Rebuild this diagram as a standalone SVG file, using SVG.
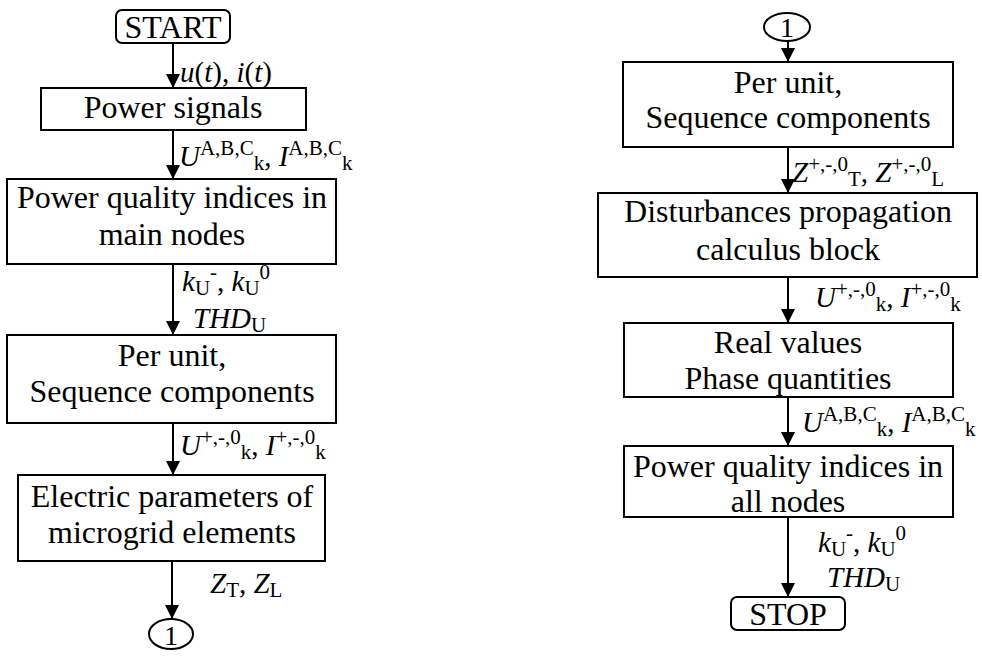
<svg xmlns="http://www.w3.org/2000/svg" width="982" height="658" viewBox="0 0 982 658">
<style>
.box{fill:#fff;stroke:#000;stroke-width:2}
.t{font-family:'Liberation Serif','DejaVu Serif',serif;font-size:32px;fill:#000;text-anchor:middle}
.l{font-family:'Liberation Serif','DejaVu Serif',serif;font-size:29px;fill:#000}
.i{font-style:italic}
.s{font-size:21px}
.c{stroke:#000;stroke-width:2;fill:none}
</style>
<defs>
<marker id="ah" markerUnits="userSpaceOnUse" markerWidth="16" markerHeight="20" refX="14" refY="7" orient="auto" viewBox="0 0 16 14">
<path d="M0,0 L14,7 L0,14 Z" fill="#000"/>
</marker>
</defs>
<rect width="982" height="658" fill="#fff"/>
<g id="connectors">
<line class="c" x1="173" y1="43" x2="173" y2="88" marker-end="url(#ah)"/>
<line class="c" x1="173" y1="130" x2="173" y2="179" marker-end="url(#ah)"/>
<line class="c" x1="173" y1="264" x2="173" y2="335" marker-end="url(#ah)"/>
<line class="c" x1="173" y1="423" x2="173" y2="475" marker-end="url(#ah)"/>
<line class="c" x1="172" y1="561" x2="172" y2="619" marker-end="url(#ah)"/>
<line class="c" x1="788" y1="41" x2="788" y2="62" marker-end="url(#ah)"/>
<line class="c" x1="788" y1="147" x2="788" y2="193" marker-end="url(#ah)"/>
<line class="c" x1="788" y1="277" x2="788" y2="323" marker-end="url(#ah)"/>
<line class="c" x1="788" y1="397" x2="788" y2="446" marker-end="url(#ah)"/>
<line class="c" x1="788" y1="517" x2="788" y2="597" marker-end="url(#ah)"/>
</g>
<g id="labels">
<text class="l" x="180" y="82"><tspan class="i">u</tspan>(<tspan class="i">t</tspan>), <tspan class="i">i</tspan>(<tspan class="i">t</tspan>)</text>
<text class="l" x="179" y="166"><tspan class="i">U</tspan><tspan class="s" dy="-11">A,B,C</tspan><tspan class="s" dy="15">k</tspan><tspan dy="-4">, </tspan><tspan class="i">I</tspan><tspan class="s" dy="-11">A,B,C</tspan><tspan class="s" dy="15">k</tspan></text>
<text class="l" x="182" y="291"><tspan class="i">k</tspan><tspan class="s" dy="4">U</tspan><tspan class="s" dy="-16">-</tspan><tspan dy="12">, </tspan><tspan class="i">k</tspan><tspan class="s" dy="4">U</tspan><tspan class="s" dy="-16">0</tspan></text>
<text class="l" x="193" y="328"><tspan class="i">THD</tspan><tspan class="s" dy="4">U</tspan></text>
<text class="l" x="180" y="455"><tspan class="i">U</tspan><tspan class="s" dy="-11">+,-,0</tspan><tspan class="s" dy="15">k</tspan><tspan dy="-4">, </tspan><tspan class="i">I</tspan><tspan class="s" dy="-11">+,-,0</tspan><tspan class="s" dy="15">k</tspan></text>
<text class="l" x="210" y="593"><tspan class="i">Z</tspan><tspan class="s" dy="4">T</tspan><tspan dy="-4">, </tspan><tspan class="i">Z</tspan><tspan class="s" dy="4">L</tspan></text>
<text class="l" x="792" y="182"><tspan class="i">Z</tspan><tspan class="s" dy="-11">+,-,0</tspan><tspan class="s" dy="15">T</tspan><tspan dy="-4">, </tspan><tspan class="i">Z</tspan><tspan class="s" dy="-11">+,-,0</tspan><tspan class="s" dy="15">L</tspan></text>
<text class="l" x="815" y="307"><tspan class="i">U</tspan><tspan class="s" dy="-11">+,-,0</tspan><tspan class="s" dy="15">k</tspan><tspan dy="-4">, </tspan><tspan class="i">I</tspan><tspan class="s" dy="-11">+,-,0</tspan><tspan class="s" dy="15">k</tspan></text>
<text class="l" x="802" y="432"><tspan class="i">U</tspan><tspan class="s" dy="-11">A,B,C</tspan><tspan class="s" dy="15">k</tspan><tspan dy="-4">, </tspan><tspan class="i">I</tspan><tspan class="s" dy="-11">A,B,C</tspan><tspan class="s" dy="15">k</tspan></text>
<text class="l" x="818" y="552"><tspan class="i">k</tspan><tspan class="s" dy="4">U</tspan><tspan class="s" dy="-16">-</tspan><tspan dy="12">, </tspan><tspan class="i">k</tspan><tspan class="s" dy="4">U</tspan><tspan class="s" dy="-16">0</tspan></text>
<text class="l" x="827" y="587"><tspan class="i">THD</tspan><tspan class="s" dy="4">U</tspan></text>
</g>
<g id="start">
<rect class="box" x="116" y="10" width="114" height="33" rx="6"/>
<text class="t" x="173" y="38">START</text>
</g>
<g id="power-signals">
<rect class="box" x="41" y="88" width="265" height="42"/>
<text class="t" x="173" y="118">Power signals</text>
</g>
<g id="pq-main">
<rect class="box" x="7" y="179" width="329" height="85"/>
<text class="t" x="172" y="208">Power quality indices in</text>
<text class="t" x="172" y="245">main nodes</text>
</g>
<g id="per-unit-1">
<rect class="box" x="7" y="335" width="329" height="88"/>
<text class="t" x="172" y="366">Per unit,</text>
<text class="t" x="172" y="402">Sequence components</text>
</g>
<g id="electric-params">
<rect class="box" x="18" y="475" width="307" height="86"/>
<text class="t" x="172" y="507">Electric parameters of</text>
<text class="t" x="172" y="543">microgrid elements</text>
</g>
<g id="connector-out">
<ellipse class="box" cx="171" cy="634" rx="22" ry="15"/>
<text class="t" x="171" y="645" style="font-size:28px">1</text>
</g>
<g id="connector-in">
<ellipse class="box" cx="787" cy="27" rx="23" ry="14"/>
<text class="t" x="787" y="37" style="font-size:28px">1</text>
</g>
<g id="per-unit-2">
<rect class="box" x="623" y="62" width="330" height="85"/>
<text class="t" x="788" y="93">Per unit,</text>
<text class="t" x="788" y="128">Sequence components</text>
</g>
<g id="disturbances">
<rect class="box" x="598" y="193" width="379" height="84"/>
<text class="t" x="788" y="222">Disturbances propagation</text>
<text class="t" x="788" y="260">calculus block</text>
</g>
<g id="real-values">
<rect class="box" x="624" y="323" width="329" height="74"/>
<text class="t" x="788" y="353">Real values</text>
<text class="t" x="788" y="389">Phase quantities</text>
</g>
<g id="pq-all">
<rect class="box" x="624" y="446" width="329" height="71"/>
<text class="t" x="788" y="477">Power quality indices in</text>
<text class="t" x="788" y="512">all nodes</text>
</g>
<g id="stop">
<rect class="box" x="731" y="597" width="114" height="33" rx="6"/>
<text class="t" x="788" y="625">STOP</text>
</g>
</svg>
